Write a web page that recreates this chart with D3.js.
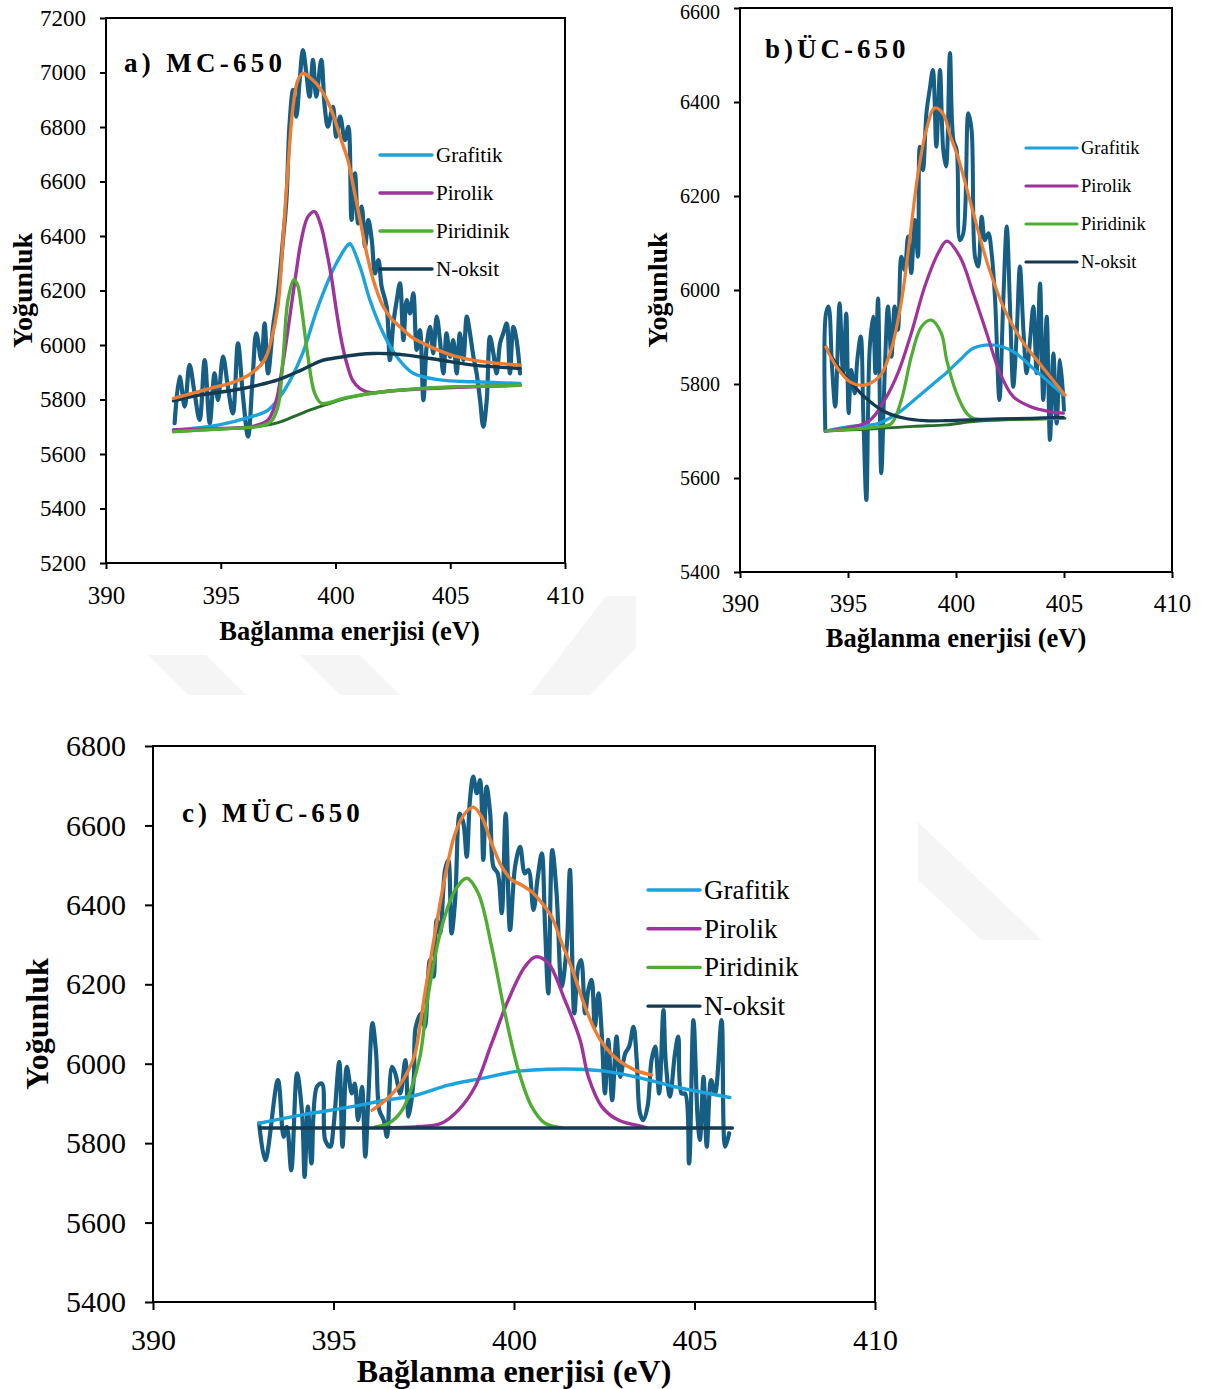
<!DOCTYPE html>
<html>
<head>
<meta charset="utf-8">
<script src="https://cdn.jsdelivr.net/npm/d3@7"></script>
<style>
  body { margin: 0; background: #fff; }
  svg { display: block; font-family: "Liberation Serif", "Times New Roman", serif; }
  svg text { font-family: "Liberation Serif", "Times New Roman", serif; }
</style>
</head>
<body>
<svg id="chart" width="1209" height="1389"></svg>
<script>
// ---- data: [binding energy (eV), intensity] ----
const energyTicks = [390, 395, 400, 405, 410];
const yTicksA = [5200, 5400, 5600, 5800, 6000, 6200, 6400, 6600, 6800, 7000, 7200];
const yTicksB = [5400, 5600, 5800, 6000, 6200, 6400, 6600];
const yTicksC = [5400, 5600, 5800, 6000, 6200, 6400, 6600, 6800];
const legendNames = ["Grafitik", "Pirolik", "Piridinik", "N-oksit"];

// a) MC-650
const rawA = [[392.99,5713],[393.21,5884],[393.43,5774],[393.64,5927],[393.86,5823],[394.08,5725],[394.30,5945],[394.52,5713],[394.73,5896],[394.88,5798],[395.10,5957],[395.31,5847],[395.53,5749],[395.75,6006],[395.97,5810],[396.19,5664],[396.40,5896],[396.55,6043],[396.77,5945],[396.91,6079],[397.06,5896],[397.28,6067],[397.49,6190],[397.71,6385],[397.86,6532],[398.00,6813],[398.15,6936],[398.29,6838],[398.44,6972],[398.58,7082],[398.73,6997],[398.87,6911],[399.02,7046],[399.16,6911],[399.38,7046],[399.53,6874],[399.67,6801],[399.89,6874],[400.03,6764],[400.20,6838],[400.41,6752],[400.56,6801],[400.70,6459],[400.85,6630],[400.99,6446],[401.14,6508],[401.29,6361],[401.43,6459],[401.58,6385],[401.72,6263],[401.87,6312],[402.01,6214],[402.23,6141],[402.37,5945],[402.52,6079],[402.67,6165],[402.81,6226],[402.96,6018],[403.10,6165],[403.25,6116],[403.39,6190],[403.54,5982],[403.68,6055],[403.83,5798],[403.97,5994],[404.12,6067],[404.26,5969],[404.41,6104],[404.55,6018],[404.70,5896],[404.84,6043],[404.99,5957],[405.13,6018],[405.28,5896],[405.42,6043],[405.57,5945],[405.72,6104],[405.86,6043],[406.01,5957],[406.15,5896],[406.30,5798],[406.44,5700],[406.59,5798],[406.73,6030],[406.88,5969],[407.02,5896],[407.17,6006],[407.31,6043],[407.46,6079],[407.60,5896],[407.75,6067],[407.89,6018],[408.04,5896]];
const fitA = [[392.94,5804],[394.5,5840],[395.6,5865],[396.33,5896],[396.91,5945],[397.2,6018],[397.49,6141],[397.71,6385],[397.93,6654],[398.15,6874],[398.36,6972],[398.58,6997],[398.94,6978],[399.38,6936],[399.82,6862],[400.25,6752],[400.54,6679],[400.78,6581],[401.07,6459],[401.36,6336],[401.65,6238],[402.08,6141],[402.45,6095],[402.81,6067],[403.3,6030],[403.83,6006],[404.5,5980],[405.28,5957],[406.5,5938],[408.04,5926]];
const baseA = [[392.94,5682],[395,5692],[396.7,5702],[397.5,5715],[398.2,5738],[398.9,5762],[399.62,5782],[400.5,5805],[401.37,5820],[402.5,5832],[404.27,5843],[406,5848],[408.05,5852]];
const grafitikA = [[392.94,5688],[394.88,5706],[396.33,5737],[397.06,5761],[397.78,5835],[398.51,5957],[399.24,6141],[399.96,6287],[400.54,6367],[400.63,6373],[401.07,6287],[401.5,6165],[402.08,6043],[402.67,5957],[403.39,5896],[404.55,5872],[406.01,5865],[408.04,5859]];
const pirolikA = [[392.94,5688],[395,5694],[396.33,5700],[397.06,5725],[397.4,5790],[397.64,5896],[397.85,6010],[398.07,6141],[398.3,6275],[398.51,6385],[398.8,6471],[399.09,6489],[399.38,6434],[399.6,6350],[399.82,6250],[400.05,6120],[400.25,6020],[400.5,5930],[400.75,5870],[401.07,5840],[401.5,5826],[402.5,5832],[404,5840],[406,5847],[408.05,5852]];
const piridinikA = [[392.94,5682],[395,5692],[396.7,5702],[397.2,5720],[397.49,5774],[397.71,5945],[397.93,6165],[398.19,6240],[398.35,6220],[398.51,6141],[398.8,5957],[399.09,5823],[399.38,5786],[399.7,5788],[400.3,5803],[401.37,5820],[402.5,5832],[404.27,5843],[406,5848],[408.05,5852]];
const noksitA = [[392.94,5795],[394,5815],[395.6,5835],[396.6,5852],[397.49,5872],[398.51,5908],[399.38,5942],[400.2,5955],[401,5965],[401.65,5969],[402.4,5968],[403.1,5963],[404.55,5945],[406.01,5926],[408.04,5914]];

// b) ÜC-650
const rawB = [[393.95,5700],[393.98,5950],[394.10,5965],[394.26,5837],[394.41,5752],[394.61,5972],[394.77,5823],[394.92,5950],[395.03,5738],[395.15,5830],[395.31,5780],[395.43,5851],[395.59,5901],[395.71,5731],[395.85,5553],[396.00,5872],[396.16,5943],[396.27,5823],[396.39,5982],[396.54,5610],[396.70,5823],[396.85,5965],[397.01,5858],[397.16,5965],[397.31,5915],[397.47,6071],[397.62,6043],[397.78,6114],[397.93,6036],[398.09,6149],[398.24,6071],[398.32,6305],[398.47,6255],[398.63,6376],[398.78,6426],[398.93,6468],[399.09,6305],[399.26,6468],[399.41,6298],[399.54,6263],[399.72,6504],[399.88,6319],[400.03,6298],[400.18,6106],[400.34,6121],[400.57,6376],[400.72,6341],[400.88,6071],[401.03,6050],[401.19,6156],[401.34,6106],[401.50,6121],[401.65,6078],[401.81,5979],[402.01,5766],[402.19,5979],[402.35,6135],[402.50,5965],[402.65,5794],[402.81,5908],[402.96,6050],[403.12,5915],[403.27,5823],[403.43,5894],[403.58,5965],[403.73,5823],[403.89,6014],[404.04,5766],[404.20,5943],[404.35,5681],[404.51,5865],[404.66,5716],[404.82,5851],[405.00,5745]];
const fitB = [[393.97,5879],[394.54,5832],[395.15,5803],[395.7,5797],[396.2,5806],[396.56,5822],[397.01,5875],[397.47,5975],[397.85,6106],[398.24,6248],[398.63,6341],[399.01,6387],[399.4,6375],[399.72,6330],[400.11,6280],[400.73,6176],[401.5,6050],[402.27,5956],[403.04,5893],[403.97,5838],[405.05,5776]];
const baseB = [[393.97,5700],[396,5704],[398,5710],[399.54,5713],[400.8,5720],[402.5,5724],[405.05,5727]];
const grafitikB = [[393.97,5700],[395.15,5710],[396.39,5716],[397.31,5738],[398.24,5773],[399.17,5809],[399.54,5823],[400.18,5851],[400.8,5876],[401.73,5883],[402.65,5869],[403.58,5833],[404.35,5802],[404.97,5777]];
const pirolikB = [[393.97,5700],[395.93,5720],[396.7,5766],[397.31,5823],[397.93,5908],[398.55,6007],[399.17,6078],[399.57,6104],[400.18,6071],[400.8,5993],[401.42,5908],[402.04,5823],[402.65,5773],[403.43,5752],[404.35,5741],[404.97,5738]];
const piridinikB = [[393.97,5700],[396.39,5709],[397.01,5716],[397.47,5766],[397.93,5858],[398.4,5922],[398.86,5936],[399.32,5908],[399.57,5851],[400.03,5780],[400.49,5738],[400.8,5727],[402.5,5726],[404.97,5727]];
const noksitB = [[393.95,5880],[394.54,5837],[395.15,5802],[395.93,5766],[396.7,5741],[397.62,5727],[398.55,5722],[399.54,5722],[401.5,5725],[403.5,5727],[404.97,5729]];

// c) MÜC-650
const rawC = [[392.94,5850],[393.11,5757],[393.46,5959],[393.62,5816],[393.71,5841],[393.83,5732],[393.99,5976],[394.13,5875],[394.20,5715],[394.29,5892],[394.39,5749],[394.54,5942],[394.68,5950],[394.77,5808],[394.91,5791],[395.00,5841],[395.16,6005],[395.25,5791],[395.37,5992],[395.51,5925],[395.59,5950],[395.68,5858],[395.79,5942],[395.88,5766],[395.97,5925],[396.08,6102],[396.18,6026],[396.27,5883],[396.39,5858],[396.48,5816],[396.62,5992],[396.71,5976],[396.85,5925],[396.99,6009],[397.08,5867],[397.22,5959],[397.28,6093],[397.44,6127],[397.53,6093],[397.67,6261],[397.77,6219],[397.86,6362],[397.95,6328],[398.09,6488],[398.18,6513],[398.27,6328],[398.37,6412],[398.50,6630],[398.60,6605],[398.69,6521],[398.78,6664],[398.87,6723],[398.97,6681],[399.06,6714],[399.15,6513],[399.24,6698],[399.34,6630],[399.43,6496],[399.55,6479],[399.66,6379],[399.77,6630],[399.89,6337],[400.03,6496],[400.17,6546],[400.30,6479],[400.40,6488],[400.54,6387],[400.66,6471],[400.77,6530],[400.86,6345],[400.95,6177],[401.06,6538],[401.18,6429],[401.32,6194],[401.46,6295],[401.55,6488],[401.67,6127],[401.78,6244],[401.86,6261],[401.97,6127],[402.06,6186],[402.15,6211],[402.24,6093],[402.34,6177],[402.43,6076],[402.52,5925],[402.61,6060],[402.72,5908],[402.84,6068],[402.94,5967],[403.08,6026],[403.19,6043],[403.31,6093],[403.40,6009],[403.49,5875],[403.58,5858],[403.70,5892],[403.81,6009],[403.91,6043],[404.02,5925],[404.14,6135],[404.20,6009],[404.32,5917],[404.46,6026],[404.55,6068],[404.64,5925],[404.74,5925],[404.85,5749],[404.97,6110],[405.09,5858],[405.15,5808],[405.25,5967],[405.34,5791],[405.46,5959],[405.57,5925],[405.75,6110],[405.85,5791],[405.96,5825]];
const fitC = [[396.07,5883],[396.44,5908],[396.8,5942],[397.08,5984],[397.26,6026],[397.53,6177],[397.81,6328],[398.09,6471],[398.37,6580],[398.64,6630],[398.87,6646],[399.1,6622],[399.38,6555],[399.66,6496],[399.94,6463],[400.21,6450],[400.49,6433],[400.77,6405],[401.04,6370],[401.32,6305],[401.6,6240],[401.97,6143],[402.24,6085],[402.52,6043],[402.89,6009],[403.35,5984],[403.81,5972]];
const grafitikC = [[392.94,5850],[394.13,5871],[395.51,5892],[396.44,5908],[397.26,5920],[398.18,5946],[399.1,5963],[400.03,5980],[400.95,5986],[401.83,5986],[402.61,5980],[403.54,5963],[404.46,5942],[405.38,5925],[405.98,5915]];
const pirolikC = [[396.4,5839],[397.26,5841],[397.99,5850],[398.46,5883],[398.92,5942],[399.38,6051],[399.84,6160],[400.3,6244],[400.6,6269],[400.95,6253],[401.41,6160],[401.83,6060],[402.06,5967],[402.43,5892],[402.89,5858],[403.54,5842],[403.66,5839]];
const piridinikC = [[396.16,5841],[396.53,5850],[396.9,5883],[397.17,5942],[397.4,6020],[397.63,6177],[398.0,6345],[398.37,6437],[398.69,6467],[399.01,6429],[399.38,6295],[399.75,6127],[400.12,5984],[400.49,5892],[400.86,5850],[401.32,5839]];
const noksitC = [[392.96,5838],[406.05,5838]];

const COLORS = {
  raw: "#175e84", fit: "#ed7d31", base: "#256b2a",
  Grafitik: "#1ba3dd", Pirolik: "#a0329c", Piridinik: "#4fad33", "N-oksit": "#143a52"
};
const SERIF = "'Liberation Serif', 'Times New Roman', serif";

const svg = d3.select("#chart");

// faint background watermark of the source document
const mark = svg.append("g").attr("fill", "#f5f5f5");
[
  "148,655 206,655 246,695 188,695",
  "300,655 360,655 400,695 340,695",
  "530,695 590,695 636,648 636,596 606,596",
  "918,822 918,880 982,940 1042,940"
].forEach(pts => mark.append("polygon").attr("points", pts));

function drawPanel(p) {
  const x = d3.scaleLinear().domain([390, 410]).range([p.left, p.left + p.w]);
  const y = d3.scaleLinear().domain([p.yTicks[0], p.yTicks[p.yTicks.length - 1]]).range([p.top + p.h, p.top]);
  const g = svg.append("g");

  const line = d3.line()
    .x(d => x(d[0]))
    .y(d => y(d[1]))
    .curve(d3.curveCatmullRom.alpha(0.5));

  const series = [
    {data: p.raw, color: COLORS.raw, w: p.lw + 0.8},
    {data: p.base, color: COLORS.base, w: p.lw - 0.4},
    {data: p.grafitik, color: COLORS.Grafitik, w: p.lw},
    {data: p.pirolik, color: COLORS.Pirolik, w: p.lw},
    {data: p.piridinik, color: COLORS.Piridinik, w: p.lw},
    {data: p.noksit, color: COLORS["N-oksit"], w: p.lw},
    {data: p.fit, color: COLORS.fit, w: p.lw}
  ].filter(s => s.data);

  g.selectAll("path.series")
    .data(series)
    .join("path")
    .attr("class", "series")
    .attr("d", s => line(s.data))
    .attr("fill", "none")
    .attr("stroke", s => s.color)
    .attr("stroke-width", s => s.w)
    .attr("stroke-linejoin", "round")
    .attr("stroke-linecap", "round");

  // frame
  g.append("rect")
    .attr("x", p.left).attr("y", p.top)
    .attr("width", p.w).attr("height", p.h)
    .attr("fill", "none").attr("stroke", "#000").attr("stroke-width", 2);

  const yAxis = g.append("g")
    .attr("transform", `translate(${p.left},0)`)
    .call(d3.axisLeft(y).tickValues(p.yTicks).tickSize(p.tickLen).tickPadding(p.yPad).tickFormat(d3.format("d")));
  const xAxis = g.append("g")
    .attr("transform", `translate(0,${p.top + p.h})`)
    .call(d3.axisBottom(x).tickValues(energyTicks).tickSize(p.tickLen).tickPadding(p.xPad).tickFormat(d3.format("d")));

  [yAxis, xAxis].forEach(a => {
    a.select(".domain").remove();
    a.attr("font-family", null);
    a.selectAll("line").attr("stroke", "#000").attr("stroke-width", 2);
    a.selectAll("text").attr("fill", "#000").style("font-family", SERIF);
  });
  yAxis.attr("font-size", p.yFont);
  xAxis.attr("font-size", p.xFont);
  // keep the topmost label inside the page when the frame sits near the edge
  if (p.top < 12) {
    yAxis.selectAll("text").filter(d => d === p.yTicks[p.yTicks.length - 1]).attr("dy", "0.5em");
  }

  g.append("text")
    .attr("x", p.left + p.w / 2 + (p.xTitleDx || 0))
    .attr("y", p.top + p.h + p.xTitleOff)
    .attr("dy", "0.35em")
    .attr("text-anchor", "middle")
    .attr("font-weight", "bold")
    .attr("font-size", p.titleFont)
    .text("Bağlanma enerjisi (eV)");

  g.append("text")
    .attr("transform", `translate(${p.left - p.yTitleOff},${p.top + p.h / 2}) rotate(-90)`)
    .attr("dy", "0.35em")
    .attr("text-anchor", "middle")
    .attr("font-weight", "bold")
    .attr("font-size", p.yTitleFont)
    .text("Yoğunluk");

  g.append("text")
    .attr("x", p.label[0]).attr("y", p.label[1])
    .attr("font-weight", "bold")
    .attr("font-size", p.labelFont)
    .style("letter-spacing", p.labelSpacing + "px")
    .text(p.name);

  // legend
  const leg = g.append("g");
  legendNames.forEach((name, i) => {
    const ry = p.legend.y0 + i * p.legend.dy;
    leg.append("line")
      .attr("x1", p.legend.x0).attr("x2", p.legend.x1)
      .attr("y1", ry).attr("y2", ry)
      .attr("stroke", COLORS[name]).attr("stroke-width", p.lw)
      .attr("stroke-linecap", "round");
    leg.append("text")
      .attr("x", p.legend.x1 + 4).attr("y", ry)
      .attr("dy", "0.33em")
      .attr("font-size", p.legend.font)
      .text(name);
  });
}

drawPanel({
  name: "a) MC-650", label: [124, 72], labelFont: 27, labelSpacing: 4.3,
  left: 106, top: 18, w: 459, h: 545, yTicks: yTicksA,
  tickLen: 6, yPad: 14, xPad: 17, yFont: 23, xFont: 25,
  titleFont: 26.5, yTitleFont: 28, xTitleOff: 68, xTitleDx: 14, yTitleOff: 84, lw: 3.4,
  raw: rawA, fit: fitA, base: baseA, grafitik: grafitikA, pirolik: pirolikA, piridinik: piridinikA, noksit: noksitA,
  legend: {x0: 380, x1: 432, y0: 155, dy: 38, font: 21}
});

drawPanel({
  name: "b)ÜC-650", label: [765, 58], labelFont: 27, labelSpacing: 4,
  left: 740, top: 8, w: 432, h: 564, yTicks: yTicksB,
  tickLen: 6, yPad: 14, xPad: 16, yFont: 20, xFont: 25,
  titleFont: 26.5, yTitleFont: 28, xTitleOff: 66, yTitleOff: 83, lw: 3.2,
  raw: rawB, fit: fitB, base: baseB, grafitik: grafitikB, pirolik: pirolikB, piridinik: piridinikB, noksit: noksitB,
  legend: {x0: 1026, x1: 1077, y0: 148, dy: 38, font: 18.5}
});

drawPanel({
  name: "c) MÜC-650", label: [182, 822], labelFont: 27, labelSpacing: 4,
  left: 153, top: 746, w: 722, h: 556, yTicks: yTicksC,
  tickLen: 8, yPad: 19, xPad: 19, yFont: 30, xFont: 30,
  titleFont: 32, yTitleFont: 32, xTitleOff: 69, yTitleOff: 116, lw: 3.4,
  raw: rawC, fit: fitC, grafitik: grafitikC, pirolik: pirolikC, piridinik: piridinikC, noksit: noksitC,
  legend: {x0: 648, x1: 700, y0: 890, dy: 38.7, font: 27}
});
</script>
</body>
</html>
